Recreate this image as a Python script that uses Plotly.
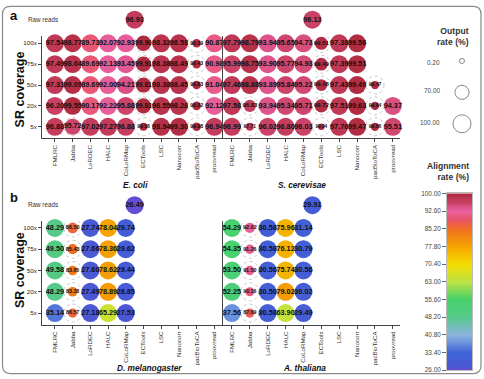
import plotly.graph_objects as go
import numpy as np

# ---------------- data ----------------
methods = ["FMLRC", "Jabba", "LoRDEC", "HALC", "CoLoRMap", "ECTools", "LSC",
           "Nanocorr", "pacBioToCA", "proovread"]
coverages = ["100x", "75x", "50x", "20x", "5x"]
coverage_level = [4, 3, 2, 1, 0]

# alignment rate (%) per method, rows 100x, 75x, 50x, 20x, 5x
ecoli_align = {
    "FMLRC": [97.54, 97.49, 97.31, 96.20, 96.88],
    "Jabba": [98.77, 98.64, 99.09, 99.55, 95.72],
    "LoRDEC": [89.73, 89.69, 89.69, 90.17, 97.02],
    "HALC": [92.07, 92.13, 92.00, 92.22, 97.27],
    "CoLoRMap": [92.93, 93.45, 94.21, 95.88, 96.88],
    "ECTools": [99.90, 99.91, 99.81, 99.83, 99.98],
    "LSC": [98.32, 98.38, 98.38, 98.55, 98.94],
    "Nanocorr": [98.58, 98.49, 98.45, 98.28, 99.30],
    "pacBioToCA": [99.39, 99.43, 99.83, 99.82, 99.98],
    "proovread": [90.87, 90.98, 91.04, 92.12, 96.94],
}
ecoli_output = {
    "FMLRC": [100, 100, 100, 100, 100],
    "Jabba": [99, 99, 99, 99, 86],
    "LoRDEC": [100, 100, 100, 100, 100],
    "HALC": [100, 100, 100, 100, 100],
    "CoLoRMap": [100, 100, 100, 100, 100],
    "ECTools": [80, 80, 78, 78, 22],
    "LSC": [100, 100, 100, 100, 100],
    "Nanocorr": [100, 100, 100, 100, 100],
    "pacBioToCA": [28, 28, 28, 28, 28],
    "proovread": [100, 100, 100, 100, 100],
}
scer_align = {
    "FMLRC": [97.79, 95.99, 97.46, 97.58, 96.99],
    "Jabba": [98.79, 98.75, 98.88, 96.83, 97.71],
    "LoRDEC": [93.94, 93.90, 93.89, 93.94, 96.02],
    "HALC": [95.65, 95.77, 95.84, 95.34, 96.80],
    "CoLoRMap": [94.73, 94.93, 95.22, 95.71, 96.03],
    "ECTools": [99.51, 99.49, 99.48, 99.72, 99.94],
    "LSC": [97.38, 97.39, 97.43, 97.51, 97.76],
    "Nanocorr": [99.56, 99.51, 99.49, 99.63, 99.47],
    "pacBioToCA": [None, None, 99.47, 99.84, 99.86],
    "proovread": [None, None, None, 94.37, 95.51],
}
scer_output = {
    "FMLRC": [100, 100, 100, 100, 100],
    "Jabba": [100, 100, 100, 55, 22],
    "LoRDEC": [100, 100, 100, 100, 100],
    "HALC": [100, 100, 100, 100, 100],
    "CoLoRMap": [100, 100, 100, 100, 100],
    "ECTools": [62, 60, 52, 62, 12],
    "LSC": [100, 100, 100, 100, 100],
    "Nanocorr": [100, 100, 100, 100, 100],
    "pacBioToCA": [None, None, 25, 25, 25],
    "proovread": [None, None, None, 100, 100],
}
dmel_align = {
    "FMLRC": [48.29, 49.50, 49.58, 48.29, 35.14],
    "Jabba": [86.50, 85.43, 83.65, 83.38, 86.57],
    "LoRDEC": [27.74, 27.66, 27.60, 27.49, 27.18],
    "HALC": [78.04, 78.36, 78.62, 78.89, 65.29],
    "CoLoRMap": [29.74, 29.62, 29.44, 28.85, 27.53],
}
dmel_output = {
    "FMLRC": [100, 100, 100, 100, 100],
    "Jabba": [44, 40, 36, 36, 32],
    "LoRDEC": [100, 100, 100, 100, 100],
    "HALC": [100, 100, 100, 100, 100],
    "CoLoRMap": [100, 100, 100, 100, 100],
}
athal_align = {
    "FMLRC": [54.29, 54.35, 53.50, 52.25, 37.56],
    "Jabba": [92.02, 91.26, 91.50, 90.16, 87.69],
    "LoRDEC": [30.58, 30.58, 30.56, 30.50, 30.58],
    "HALC": [75.96, 76.12, 75.74, 79.02, 63.90],
    "CoLoRMap": [31.14, 30.79, 30.56, 30.02, 29.49],
}
athal_output = {
    "FMLRC": [100, 100, 100, 100, 100],
    "Jabba": [40, 34, 34, 30, 32],
    "LoRDEC": [100, 100, 100, 100, 100],
    "HALC": [100, 100, 100, 100, 100],
    "CoLoRMap": [100, 100, 100, 100, 100],
}
raw_align = {"E. coli": 96.93, "S. cerevisae": 96.13,
             "D. melanogaster": 26.49, "A. thaliana": 29.91}
raw_output = {"E. coli": 100, "S. cerevisae": 100,
              "D. melanogaster": 100, "A. thaliana": 100}

legend_rates = [0.20, 70.00, 100.00]
cbar_ticks = [26.00, 33.40, 40.80, 48.20, 55.60, 63.00, 70.40, 77.80, 85.20, 92.60, 100.00]

# ---------------- styling ----------------
W, H = 484, 379
FONT = "Liberation Sans, Arial, sans-serif"


def px(x):
    return x / W


def py(y):
    return 1 - y / H


def diam(r):
    return 5 + 13 * r / 100


def fsize(r):
    return 4.3 + 3.0 * r / 100


colorscale = [
    [0.00, "#7c44d2"], [0.012, "#4d56d3"], [0.10, "#3e64d8"], [0.20, "#8db4e0"],
    [0.30, "#55c98a"], [0.40, "#46d16a"], [0.50, "#bde244"], [0.60, "#f4dc00"],
    [0.70, "#f6a400"], [0.80, "#ef6e22"], [0.85, "#ea5468"], [0.90, "#e860a0"],
    [0.95, "#c84062"], [1.00, "#ae2a3e"],
]
CMIN, CMAX = 26, 100

YR = [-0.56, 4.33]

# (name, alignment, output, x-axis, y-axis, raw-reads y-axis)
panels = [
    ("E. coli", ecoli_align, ecoli_output, "x", "y", "y7"),
    ("S. cerevisae", scer_align, scer_output, "x2", "y2", "y7"),
    ("D. melanogaster", dmel_align, dmel_output, "x3", "y3", "y8"),
    ("A. thaliana", athal_align, athal_output, "x4", "y4", "y8"),
]

fig = go.Figure()
shapes = []


def bubble_trace(xs, ys, cs, outs, xa, ya):
    return go.Scatter(
        x=xs, y=ys, mode="markers+text", xaxis=xa, yaxis=ya,
        marker=dict(color=cs, coloraxis="coloraxis", size=[diam(o) for o in outs],
                    sizemode="diameter", line=dict(width=0), opacity=1),
        text=[f"{v:.2f}" for v in cs], textposition="middle center",
        textfont=dict(size=[fsize(o) for o in outs], color="#111", family=FONT,
                      weight="bold"),
        cliponaxis=False, showlegend=False, hoverinfo="skip")


for name, align, output, xa, ya, yraw in panels:
    xs, ys, cs, os_ = [], [], [], []
    for mi, m in enumerate(methods):
        if m not in align:
            continue
        for ri, lvl in enumerate(coverage_level):
            v = align[m][ri]
            o = output[m][ri]
            if v is None:
                continue
            xs.append(mi)
            ys.append(lvl)
            cs.append(v)
            os_.append(o)
            if o < 95:
                shapes.append(dict(
                    type="circle", xref=xa, yref=ya, xsizemode="pixel", ysizemode="pixel",
                    xanchor=mi, yanchor=lvl, x0=-9, x1=9, y0=-9, y1=9,
                    line=dict(color="#b5b5b5", width=0.8, dash="dot"), layer="below"))
    fig.add_trace(bubble_trace(xs, ys, cs, os_, xa, ya))
    # raw reads bubble, centred over the panel
    fig.add_trace(bubble_trace([(len(methods) - 1) / 2], [0], [raw_align[name]],
                               [raw_output[name]], xa, yraw))

# colour bar as heatmap
levels = np.linspace(CMIN, CMAX, 200)
fig.add_trace(go.Heatmap(
    z=[[v] for v in levels], x=[0], y=levels, coloraxis="coloraxis",
    xaxis="x5", yaxis="y5", showscale=False, hoverinfo="skip"))

# output-rate legend circles
fig.add_trace(go.Scatter(
    x=[0] * len(legend_rates), y=[2, 1, 0], mode="markers", xaxis="x6", yaxis="y6",
    marker=dict(size=[diam(r) for r in legend_rates], sizemode="diameter",
                color="rgba(0,0,0,0)", line=dict(color="#444", width=0.9), symbol="circle"),
    showlegend=False, hoverinfo="skip", cliponaxis=False))

# ---------------- axes ----------------
xdom_l = [px(42), px(223)]
xdom_r = [px(223), px(400)]
ydom_a = [py(137), py(33)]
ydom_b = [py(327), py(221)]

xcommon = dict(tickvals=list(range(len(methods))), ticktext=methods, tickangle=-90,
               ticks="outside", ticklen=3, tickwidth=0.8, tickcolor="#444",
               showline=True, linecolor="#444", linewidth=1,
               tickfont=dict(size=6.2, color="#333", family=FONT),
               showgrid=False, zeroline=False, fixedrange=True)
ycommon = dict(range=YR, showline=True, linecolor="#444", linewidth=1,
               showgrid=False, zeroline=False, fixedrange=True)
yleft = dict(tickvals=coverage_level, ticktext=coverages, ticks="outside", ticklen=3,
             tickwidth=0.8, tickcolor="#444",
             tickfont=dict(size=6.2, color="#222", family=FONT), **ycommon)
yright = dict(showticklabels=False, ticks="", **ycommon)
yraw = dict(range=[-0.5, 0.5], visible=False, fixedrange=True)

fig.update_layout(
    xaxis=dict(domain=xdom_l, range=[-0.73, 9.49], anchor="y", **xcommon),
    xaxis2=dict(domain=xdom_r, range=[-0.5, 9.4], anchor="y2", **xcommon),
    xaxis3=dict(domain=xdom_l, range=[-0.73, 9.49], anchor="y3", **xcommon),
    xaxis4=dict(domain=xdom_r, range=[-0.5, 9.4], anchor="y4", **xcommon),
    yaxis=dict(domain=ydom_a, anchor="x", **yleft),
    yaxis2=dict(domain=ydom_a, anchor="x2", **yright),
    yaxis3=dict(domain=ydom_b, anchor="x3", **yleft),
    yaxis4=dict(domain=ydom_b, anchor="x4", **yright),
    yaxis7=dict(domain=[py(28), py(4)], anchor="x", **yraw),
    yaxis8=dict(domain=[py(217), py(193)], anchor="x3", **yraw),
    xaxis5=dict(domain=[px(447), px(472)], range=[-0.5, 0.5], anchor="y5",
                showticklabels=False, ticks="", showline=True, mirror=True,
                linecolor="#bbb", linewidth=0.8, showgrid=False, zeroline=False),
    yaxis5=dict(domain=[py(373), py(193)], range=[CMIN, CMAX], anchor="x5", side="left",
                tickvals=cbar_ticks, ticktext=[f"{t:.2f}" for t in cbar_ticks],
                ticks="outside", ticklen=4, tickwidth=0.8, tickcolor="#666",
                tickfont=dict(size=6.4, color="#444", family=FONT),
                showline=True, mirror=True, linecolor="#bbb", linewidth=0.8,
                showgrid=False, zeroline=False),
    xaxis6=dict(domain=[px(452), px(472)], range=[-0.5, 0.5], anchor="y6",
                visible=False),
    yaxis6=dict(domain=[py(130), py(50)], range=[-0.25, 2.25], anchor="x6",
                visible=False),
    coloraxis=dict(colorscale=colorscale, cmin=CMIN, cmax=CMAX, showscale=False),
    width=W, height=H, margin=dict(l=0, r=0, t=0, b=0),
    paper_bgcolor="white", plot_bgcolor="rgba(0,0,0,0)",
    font=dict(family=FONT, color="#222"),
    showlegend=False,
)

# ---------------- annotations ----------------
ann = []


def add_text(text, x, y, size, bold=False, italic=False, color="#111",
             xanchor="center", yanchor="middle", angle=0, align="center"):
    ann.append(dict(text=text, x=px(x), y=py(y), xref="paper", yref="paper",
                    showarrow=False, xanchor=xanchor, yanchor=yanchor, textangle=angle,
                    align=align,
                    font=dict(size=size, color=color, family=FONT,
                              weight="bold" if bold else "normal",
                              style="italic" if italic else "normal")))


add_text("a", 14, 12, 13, bold=True)
add_text("b", 14, 197, 13, bold=True)
add_text("Raw reads", 43, 16, 6.3, color="#333")
add_text("Raw reads", 43, 204, 6.3, color="#333")
add_text("SR coverage", 20, 87, 12.5, bold=True, angle=-90)
add_text("SR coverage", 20, 271, 12.5, bold=True, angle=-90)
add_text("E. coli", 135, 184, 8.3, bold=True, italic=True)
add_text("S. cerevisae", 302, 184, 8.3, bold=True, italic=True)
add_text("D. melanogaster", 149, 371, 8.3, bold=True, italic=True)
add_text("A. thaliana", 304, 371, 8.3, bold=True, italic=True)
add_text("Output<br>rate (%)", 471, 33, 8.6, bold=True, color="#333",
         xanchor="right", align="right")
add_text("Alignment<br>rate (%)", 471, 171, 8.6, bold=True, color="#333",
         xanchor="right", align="right")
for r, yy in zip(legend_rates, [60, 88, 121]):
    add_text(f"{r:.2f}", 442, yy, 6.4, color="#444", xanchor="right")

fig.update_layout(annotations=ann)


# rounded frame
def rr_path(x0, y0, x1, y1, r):
    P = lambda a, b: f"{px(a):.5f},{py(b):.5f}"
    return (f"M {P(x0 + r, y0)} L {P(x1 - r, y0)} Q {P(x1, y0)} {P(x1, y0 + r)} "
            f"L {P(x1, y1 - r)} Q {P(x1, y1)} {P(x1 - r, y1)} "
            f"L {P(x0 + r, y1)} Q {P(x0, y1)} {P(x0, y1 - r)} "
            f"L {P(x0, y0 + r)} Q {P(x0, y0)} {P(x0 + r, y0)} Z")


shapes.append(dict(type="path", xref="paper", yref="paper",
                   path=rr_path(2.5, 2.5, 481, 376.5, 8),
                   line=dict(color="#8a8a8a", width=1.2), fillcolor="rgba(0,0,0,0)"))
fig.update_layout(shapes=shapes)

fig.write_html("out.html")
